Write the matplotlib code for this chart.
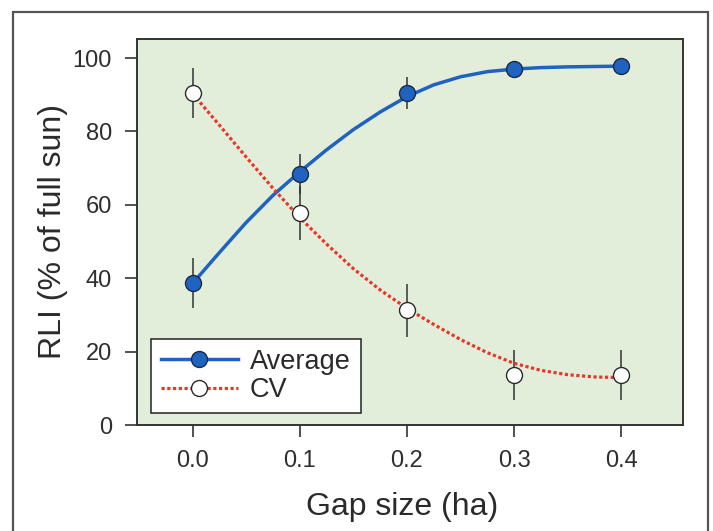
import numpy as np
import matplotlib
matplotlib.use('Agg')
import matplotlib.pyplot as plt
from matplotlib.patches import Rectangle

plt.rcParams['font.family'] = ['Liberation Sans', 'DejaVu Sans']

# measured points
gap = [0.0, 0.1, 0.2, 0.3, 0.4]
avg = [38.6, 68.4, 90.4, 97.0, 97.8]
avg_err = [6.8, 5.4, 4.4, 1.5, 1.5]
cv = [90.4, 57.8, 31.3, 13.6, 13.6]
cv_err = [6.8, 7.3, 7.2, 6.8, 6.9]

# fitted curves
fit_x = [0.0, 0.025, 0.05, 0.075, 0.1, 0.125, 0.15, 0.175, 0.2,
         0.225, 0.25, 0.275, 0.3, 0.325, 0.35, 0.375, 0.4]
avg_fit = [38.6, 47.0, 55.2, 62.6, 69.0, 75.0, 80.5, 85.3, 89.5,
           92.7, 94.9, 96.3, 97.0, 97.4, 97.6, 97.7, 97.8]
cv_fit = [90.3, 81.7, 73.0, 64.5, 56.5, 49.3, 42.6, 36.8, 31.8,
          27.4, 23.3, 19.7, 16.8, 14.9, 13.7, 13.1, 12.9]

BLUE = '#1f62c0'
RED = '#e5372b'
DARK = '#333333'
DOTS = (0, (1, 0.8))

fig = plt.figure(figsize=(7.13, 5.31), dpi=100)
fig.patches.append(Rectangle((13/713, -0.05), 695/713, 1.05 - 12/531,
                             transform=fig.transFigure, fill=False,
                             edgecolor='#555555', linewidth=1.6))
ax = fig.add_axes([0.192, 0.1996, 0.766, 0.727])
ax.set_facecolor('#e2eed9')

ax.errorbar(gap, avg, yerr=avg_err, fmt='none', ecolor=DARK, elinewidth=1.1, capsize=0, zorder=2)
ax.errorbar(gap, cv, yerr=cv_err, fmt='none', ecolor=DARK, elinewidth=1.1, capsize=0, zorder=2)

ax.plot(fit_x, avg_fit, color=BLUE, linewidth=2.5, solid_capstyle='round',
        solid_joinstyle='round', zorder=3)
ax.plot(fit_x, cv_fit, color=RED, linewidth=2.3, linestyle=DOTS, zorder=3)

ax.plot(gap, avg, 'o', markersize=11.5, markerfacecolor=BLUE, markeredgecolor='#1b2a44',
        markeredgewidth=1.0, zorder=4)
ax.plot(gap, cv, 'o', markersize=11.5, markerfacecolor='white', markeredgecolor='#2a2a2a',
        markeredgewidth=1.0, zorder=4)

# legend proxies
h1, = ax.plot([], [], color=BLUE, linewidth=2.5, marker='o', markersize=11.5,
              markerfacecolor=BLUE, markeredgecolor='#1b2a44', markeredgewidth=1.0)
h2, = ax.plot([], [], color=RED, linewidth=2.3, linestyle=DOTS, marker='o',
              markersize=11.5, markerfacecolor='white', markeredgecolor='#2a2a2a',
              markeredgewidth=1.0)
leg = ax.legend([h1, h2], ['Average', 'CV'], loc='lower left', bbox_to_anchor=(0.0256, 0.031),
                borderaxespad=0, fontsize=19.5, handlelength=2.85, handletextpad=0.45,
                borderpad=0.36, labelspacing=0.1, fancybox=False, framealpha=1,
                edgecolor='#222222')
leg.get_frame().set_linewidth(1.1)
for t in leg.get_texts():
    t.set_color('#2a2a2a')

ax.set_xlim(-0.052, 0.4576)
ax.set_ylim(0, 105.2)
ax.set_xticks(gap)
ax.set_xticklabels(['0.0', '0.1', '0.2', '0.3', '0.4'])
ax.set_yticks([0, 20, 40, 60, 80, 100])

for s in ax.spines.values():
    s.set_linewidth(1.4)
    s.set_color(DARK)
ax.tick_params(direction='out', length=8.6, width=1.2, color=DARK, labelsize=17,
               labelcolor='#2e2e2e', pad=9.5)

ax.set_xlabel('Gap size (ha)', fontsize=23, color='#2a2a2a')
ax.xaxis.set_label_coords(0.485, -0.1736)
ax.set_ylabel('RLI (% of full sun)', fontsize=23, color='#2a2a2a', labelpad=3.5)

fig.savefig('out.png', dpi=100)
